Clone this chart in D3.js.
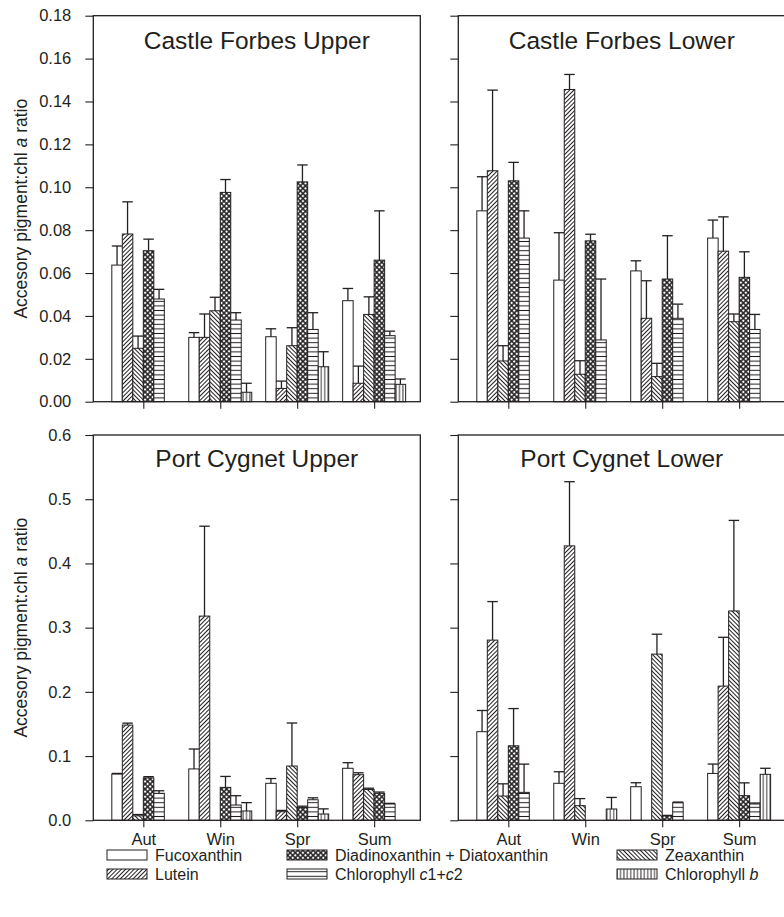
<!DOCTYPE html>
<html><head><meta charset="utf-8">
<script src="https://cdn.jsdelivr.net/npm/d3@7"></script>
<style>
body{margin:0;background:#fff}
svg{display:block}
text{font-family:"Liberation Sans",Arial,Helvetica,sans-serif;fill:#231f20}
</style>
</head><body>
<svg id="chart" width="784" height="917"></svg>
<script>
// ---------- data ----------
const seasons = ["Aut", "Win", "Spr", "Sum"];
const pigments = ["fuco", "lutein", "zeax", "diadino", "chlc", "chlb"];
const pigmentNames = ["Fucoxanthin", "Lutein", "Zeaxanthin", "Diadinoxanthin + Diatoxanthin", "Chlorophyll c1+c2", "Chlorophyll b"];
const panelTitles = ["Castle Forbes Upper", "Castle Forbes Lower", "Port Cygnet Upper", "Port Cygnet Lower"];

const topTicks = [0, 0.02, 0.04, 0.06, 0.08, 0.10, 0.12, 0.14, 0.16, 0.18];
const bottomTicks = [0, 0.1, 0.2, 0.3, 0.4, 0.5, 0.6];

// Castle Forbes Upper (rows: pigments, columns: seasons)
const cfuMean = [
  [0.0637, 0.0300, 0.0303, 0.0471],
  [0.0782, 0.0300, 0.0062, 0.0086],
  [0.0249, 0.0424, 0.0261, 0.0407],
  [0.0704, 0.0976, 0.1025, 0.0660],
  [0.0479, 0.0381, 0.0337, 0.0308],
  [0.0000, 0.0044, 0.0163, 0.0081]
];
const cfuErr = [
  [0.0089, 0.0022, 0.0037, 0.0057],
  [0.0150, 0.0109, 0.0034, 0.0080],
  [0.0057, 0.0063, 0.0084, 0.0082],
  [0.0054, 0.0060, 0.0079, 0.0230],
  [0.0045, 0.0034, 0.0078, 0.0021],
  [0.0000, 0.0042, 0.0070, 0.0025]
];
// Castle Forbes Lower
const cflMean = [
  [0.0890, 0.0567, 0.0610, 0.0763],
  [0.1077, 0.1456, 0.0389, 0.0702],
  [0.0190, 0.0128, 0.0117, 0.0373],
  [0.1030, 0.0750, 0.0572, 0.0580],
  [0.0763, 0.0288, 0.0389, 0.0337],
  [0.0000, 0.0000, 0.0000, 0.0000]
];
const cflErr = [
  [0.0159, 0.0221, 0.0047, 0.0084],
  [0.0376, 0.0070, 0.0175, 0.0160],
  [0.0071, 0.0063, 0.0062, 0.0036],
  [0.0086, 0.0031, 0.0202, 0.0119],
  [0.0127, 0.0284, 0.0066, 0.0070],
  [0.0000, 0.0000, 0.0000, 0.0000]
];
// Port Cygnet Upper
const pcuMean = [
  [0.0720, 0.0800, 0.0576, 0.0810],
  [0.1483, 0.3180, 0.0134, 0.0710],
  [0.0070, 0.0000, 0.0845, 0.0480],
  [0.0660, 0.0513, 0.0200, 0.0420],
  [0.0420, 0.0238, 0.0320, 0.0254],
  [0.0000, 0.0145, 0.0098, 0.0000]
];
const pcuErr = [
  [0.0010, 0.0310, 0.0074, 0.0087],
  [0.0030, 0.1400, 0.0020, 0.0030],
  [0.0020, 0.0000, 0.0670, 0.0020],
  [0.0020, 0.0170, 0.0020, 0.0020],
  [0.0040, 0.0145, 0.0030, 0.0010],
  [0.0000, 0.0130, 0.0080, 0.0000]
];
// Port Cygnet Lower
const pclMean = [
  [0.1380, 0.0576, 0.0523, 0.0730],
  [0.2806, 0.4273, 0.0000, 0.2090],
  [0.0378, 0.0228, 0.2588, 0.3260],
  [0.1160, 0.0000, 0.0067, 0.0383],
  [0.0435, 0.0000, 0.0274, 0.0254],
  [0.0000, 0.0176, 0.0000, 0.0716]
];
const pclErr = [
  [0.0330, 0.0180, 0.0062, 0.0146],
  [0.0600, 0.1000, 0.0000, 0.0760],
  [0.0190, 0.0110, 0.0310, 0.1410],
  [0.0580, 0.0000, 0.0010, 0.0200],
  [0.0440, 0.0000, 0.0010, 0.0015],
  [0.0000, 0.0180, 0.0000, 0.0094]
];

// ---------- layout ----------
const ink = "#231f20";
const svg = d3.select("#chart");
const panelW = 327;
const panels = [
  {title: panelTitles[0], mean: cfuMean, err: cfuErr, x0: 93.3, top: 15.7, bottom: 401.7, max: 0.18, ticks: topTicks, fmt: d3.format(".2f"), yLabels: true, xLabels: false, titleY: 48.5},
  {title: panelTitles[1], mean: cflMean, err: cflErr, x0: 458.3, top: 15.7, bottom: 401.7, max: 0.18, ticks: topTicks, fmt: d3.format(".2f"), yLabels: false, xLabels: false, titleY: 48.5},
  {title: panelTitles[2], mean: pcuMean, err: pcuErr, x0: 93.3, top: 435, bottom: 820.3, max: 0.6, ticks: bottomTicks, fmt: d3.format(".1f"), yLabels: true, xLabels: true, titleY: 467},
  {title: panelTitles[3], mean: pclMean, err: pclErr, x0: 458.3, top: 435, bottom: 820.3, max: 0.6, ticks: bottomTicks, fmt: d3.format(".1f"), yLabels: false, xLabels: true, titleY: 467}
];

// ---------- patterns ----------
const defs = svg.append("defs");
function linePattern(id, size, angle, sw) {
  const p = defs.append("pattern").attr("id", id).attr("patternUnits", "userSpaceOnUse")
    .attr("width", size).attr("height", size)
    .attr("patternTransform", `rotate(${angle})`);
  p.append("rect").attr("width", size).attr("height", size).attr("fill", "#fff");
  p.append("line").attr("x1", size / 2).attr("x2", size / 2).attr("y1", 0).attr("y2", size)
    .attr("stroke", ink).attr("stroke-width", sw);
}
linePattern("p-lutein", 3.0, 45, 1.0);
linePattern("p-zeax", 3.0, -45, 1.0);
linePattern("p-chlb", 3.4, 0, 0.9);
linePattern("p-chlc", 4.6, 90, 1.0);
(function () {
  const s = 3.6;
  const p = defs.append("pattern").attr("id", "p-diadino").attr("patternUnits", "userSpaceOnUse")
    .attr("width", s).attr("height", s).attr("patternTransform", "rotate(45)");
  p.append("rect").attr("width", s).attr("height", s).attr("fill", "#fff");
  p.append("line").attr("x1", s / 2).attr("x2", s / 2).attr("y1", 0).attr("y2", s).attr("stroke", ink).attr("stroke-width", 1.5);
  p.append("line").attr("y1", s / 2).attr("y2", s / 2).attr("x1", 0).attr("x2", s).attr("stroke", ink).attr("stroke-width", 1.5);
})();
const fills = {fuco: "#fff", lutein: "url(#p-lutein)", zeax: "url(#p-zeax)", diadino: "url(#p-diadino)", chlc: "url(#p-chlc)", chlb: "url(#p-chlb)"};

// ---------- panels ----------
panels.forEach(pn => {
  const g = svg.append("g");
  const x = d3.scaleLinear().domain([-0.65, 3.6]).range([pn.x0, pn.x0 + panelW]);
  const inner = d3.scaleBand().domain(pigments).range([-31.5, 31.5]).padding(0);
  const y = d3.scaleLinear().domain([0, pn.max]).range([pn.bottom, pn.top]);
  const bw = inner.bandwidth();

  // bars
  pigments.forEach((pg, pi) => {
    seasons.forEach((s, si) => {
      const v = pn.mean[pi][si];
      if (v <= 0) return;
      const bx = x(si) + inner(pg);
      g.append("rect").attr("x", bx).attr("y", y(v)).attr("width", bw).attr("height", y(0) - y(v))
        .attr("fill", fills[pg]).attr("stroke", ink).attr("stroke-width", 1);
      const e = pn.err[pi][si];
      const cx = bx + bw / 2;
      g.append("line").attr("x1", cx).attr("x2", cx).attr("y1", y(v)).attr("y2", y(v + e))
        .attr("stroke", ink).attr("stroke-width", 1.3);
      g.append("line").attr("x1", bx).attr("x2", bx + bw).attr("y1", y(v + e)).attr("y2", y(v + e))
        .attr("stroke", ink).attr("stroke-width", 1.3);
    });
  });

  // frame
  g.append("rect").attr("x", pn.x0).attr("y", pn.top).attr("width", panelW).attr("height", pn.bottom - pn.top)
    .attr("fill", "none").attr("stroke", ink).attr("stroke-width", 1.3);

  // y axis
  const ya = g.append("g").attr("transform", `translate(${pn.x0},0)`)
    .call(d3.axisLeft(y).tickValues(pn.ticks).tickSize(8).tickSizeOuter(0).tickPadding(14)
      .tickFormat(pn.yLabels ? pn.fmt : ""));
  ya.select(".domain").remove();
  ya.selectAll(".tick line").attr("stroke", ink).attr("stroke-width", 1.1);
  ya.selectAll(".tick text").attr("font-size", 16.5).attr("fill", ink)
    .attr("font-family", "'Liberation Sans',Arial,Helvetica,sans-serif");

  // x axis
  const xa = g.append("g").attr("transform", `translate(0,${pn.bottom})`)
    .call(d3.axisBottom(x).tickValues([0, 1, 2, 3]).tickSize(7).tickSizeOuter(0).tickPadding(6)
      .tickFormat(pn.xLabels ? (i => seasons[i]) : ""));
  xa.select(".domain").remove();
  xa.selectAll(".tick line").attr("stroke", ink).attr("stroke-width", 1.1);
  xa.selectAll(".tick text").attr("font-size", 16.5).attr("fill", ink)
    .attr("font-family", "'Liberation Sans',Arial,Helvetica,sans-serif");

  // title
  g.append("text").attr("x", pn.x0 + panelW / 2).attr("y", pn.titleY).attr("text-anchor", "middle")
    .attr("font-size", 24.5).text(pn.title);

  // y label
  if (pn.yLabels) {
    const t = g.append("text").attr("transform", `translate(27,${(pn.top + pn.bottom) / 2}) rotate(-90)`)
      .attr("text-anchor", "middle").attr("font-size", 17.5);
    t.append("tspan").text("Accesory pigment:chl ");
    t.append("tspan").attr("font-style", "italic").text("a");
    t.append("tspan").text(" ratio");
  }
});

// ---------- legend ----------
const legendCols = [107, 287, 617];
const legendRows = [850, 869];
const legendOrder = [[0, 1], [3, 4], [2, 5]]; // pigment indices per column
const lg = svg.append("g");
legendOrder.forEach((col, ci) => {
  col.forEach((pi, ri) => {
    const lx = legendCols[ci], ly = legendRows[ri];
    lg.append("rect").attr("x", lx).attr("y", ly).attr("width", 40).attr("height", 10)
      .attr("fill", fills[pigments[pi]]).attr("stroke", ink).attr("stroke-width", 1);
    const t = lg.append("text").attr("x", lx + 48).attr("y", ly + 11).attr("font-size", 16);
    const name = pigmentNames[pi];
    if (name === "Chlorophyll c1+c2") {
      t.append("tspan").text("Chlorophyll ");
      t.append("tspan").attr("font-style", "italic").text("c");
      t.append("tspan").text("1+");
      t.append("tspan").attr("font-style", "italic").text("c");
      t.append("tspan").text("2");
    } else if (name === "Chlorophyll b") {
      t.append("tspan").text("Chlorophyll ");
      t.append("tspan").attr("font-style", "italic").text("b");
    } else {
      t.text(name);
    }
  });
});
</script>
</body></html>
